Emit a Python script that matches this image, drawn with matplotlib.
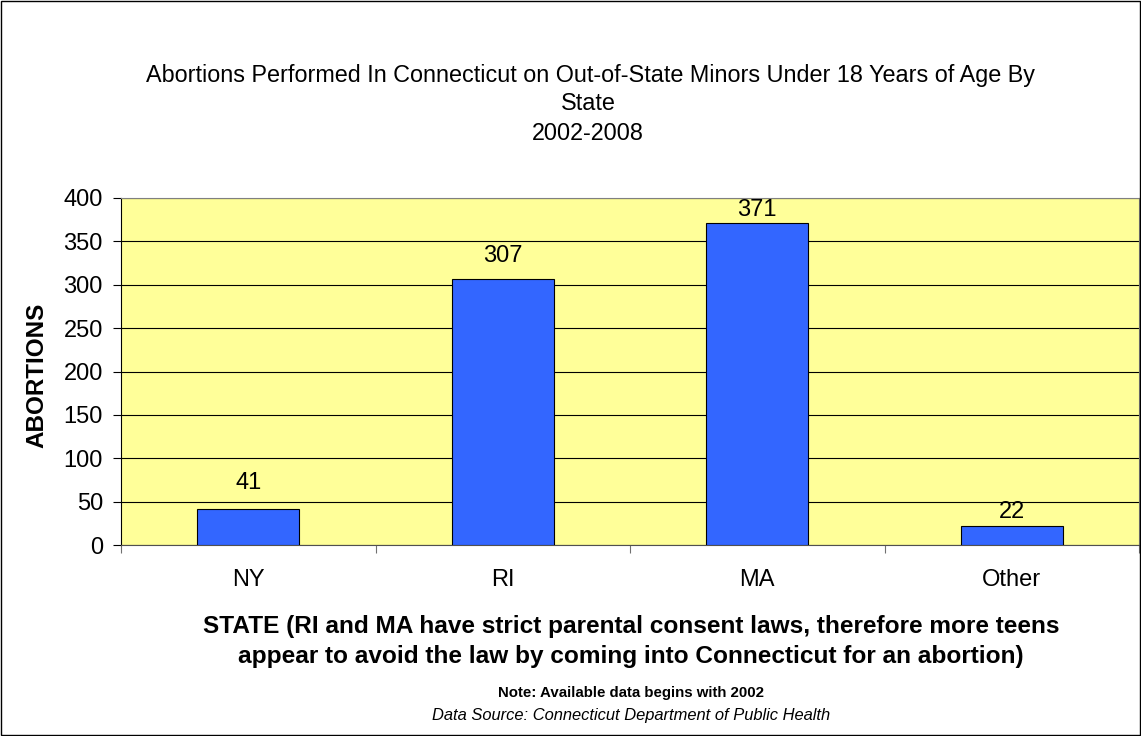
import matplotlib
matplotlib.use("Agg")
import matplotlib.pyplot as plt
from matplotlib.patches import Rectangle

# Data
states = ["NY", "RI", "MA", "Other"]
abortions = [41, 307, 371, 22]
yticks = [0, 50, 100, 150, 200, 250, 300, 350, 400]

plt.rcParams['font.family'] = ['Liberation Sans', 'DejaVu Sans']

W, H = 1141, 736
fig = plt.figure(figsize=(W / 100, H / 100), dpi=100)
ax = fig.add_axes([121/W, 1 - 545/H, (1139 - 121)/W, (545 - 198)/H])

ax.set_facecolor('#FFFF99')
x = list(range(len(states)))
bars = ax.bar(x, abortions, width=0.4, color='#3366FF', edgecolor='black',
              linewidth=0.8, zorder=3)

# label offsets above the bar tops (points), as the original places them
label_offsets = [18.7, 16.5, 9.6, 10.0]
for xi, v, off in zip(x, abortions, label_offsets):
    ax.annotate(str(v), (xi, v), xytext=(0, off), textcoords='offset points',
                ha='center', va='center', fontsize=17, zorder=4)

ax.set_xlim(-0.5, len(states) - 0.5)
ax.set_ylim(0, 400)
ax.set_yticks(yticks)
ax.tick_params(axis='y', labelsize=17, direction='out', length=6, width=0.8, pad=7)
ax.yaxis.grid(True, color='black', linewidth=0.8, zorder=1)

# category labels, ticks on category boundaries (Excel style)
ax.set_xticks(x)
ax.set_xticklabels(states, fontsize=17)
ax.tick_params(axis='x', length=0, pad=17)
ax.set_xticks([i - 0.5 for i in range(len(states) + 1)], minor=True)
ax.tick_params(axis='x', which='minor', length=6, width=0.8, direction='out',
               color='#707070')

ax.spines['top'].set_color('#808080')
ax.spines['right'].set_color('#808080')
ax.spines['left'].set_color('black')
ax.spines['bottom'].set_color('#505050')

fig.text(37/W, 1 - 375/H, 'ABORTIONS', rotation=90, ha='center', va='center',
         fontsize=17.5, fontweight='bold')

# title lines (baseline positions)
fig.text(590/W, 1 - 82/H, 'Abortions Performed In Connecticut on Out-of-State Minors Under 18 Years of Age By',
         ha='center', va='baseline', fontsize=16.8)
fig.text(588/W, 1 - 110/H, 'State', ha='center', va='baseline', fontsize=16.8)
fig.text(588/W, 1 - 140/H, '2002-2008', ha='center', va='baseline', fontsize=16.8)

fig.text(631/W, 1 - 633/H,
         'STATE (RI and MA have strict parental consent laws, therefore more teens',
         ha='center', va='baseline', fontsize=17.6, fontweight='bold')
fig.text(631/W, 1 - 663/H,
         'appear to avoid the law by coming into Connecticut for an abortion)',
         ha='center', va='baseline', fontsize=17.6, fontweight='bold')
fig.text(631/W, 1 - 697/H, 'Note: Available data begins with 2002',
         ha='center', va='baseline', fontsize=10.8, fontweight='bold')
fig.text(631/W, 1 - 720/H, 'Data Source: Connecticut Department of Public Health',
         ha='center', va='baseline', fontsize=11.9, style='italic')

fig.patches.append(Rectangle((0.001, 0.001), 0.998, 0.998, transform=fig.transFigure,
                             fill=False, edgecolor='black', linewidth=1))

fig.savefig('out.png', dpi=100)
